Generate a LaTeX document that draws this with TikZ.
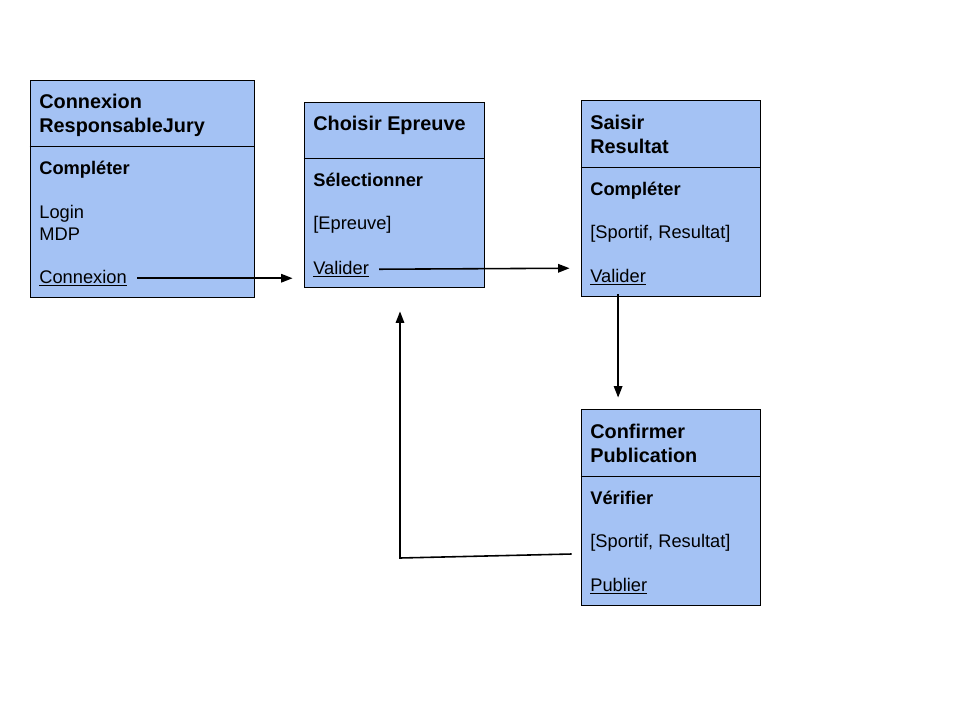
\documentclass[tikz,border=0pt]{standalone}
\usepackage{fontspec}
\setmainfont{Liberation Sans}
\usetikzlibrary{arrows.meta, positioning, calc}
\definecolor{boxblue}{HTML}{A4C2F4}

\begin{document}
\begin{tikzpicture}[x=0.02cm, y=-0.02cm,
    box/.style={rectangle, draw=black, line width=0.5pt, fill=boxblue, inner sep=0pt},
    divider/.style={draw=black, line width=0.5pt},
    head/.style={anchor=base west, inner sep=0pt, font=\fontsize{11.3}{13.7}\selectfont\bfseries},
    body/.style={anchor=base west, inner sep=0pt, font=\fontsize{10.4}{12.5}\selectfont},
    act/.style={body, font=\fontsize{10.4}{12.5}\selectfont\bfseries},
    arrow/.style={-{Triangle[length=2.3mm, width=1.7mm]}, line width=0.9pt}
]
\useasboundingbox (0,0) rectangle (960,720);

% Boxes
\node[box, minimum width=4.48cm, minimum height=4.34cm] (b1) at (142,188.5) {};
\node[box, minimum width=3.6cm, minimum height=3.7cm] (b2) at (394,194.5) {};
\node[box, minimum width=3.58cm, minimum height=3.92cm] (b3) at (670.5,198) {};
\node[box, minimum width=3.58cm, minimum height=3.92cm] (b4) at (670.5,507) {};

% Dividers
\draw[divider] (b1.west |- 0,146) -- (b1.east |- 0,146);
\draw[divider] (b2.west |- 0,158) -- (b2.east |- 0,158);
\draw[divider] (b3.west |- 0,167) -- (b3.east |- 0,167);
\draw[divider] (b4.west |- 0,476) -- (b4.east |- 0,476);

% Connexion ResponsableJury
\node[head] (h1a) at (39,108) {Connexion};
\node[head] (h1b) at (39,132) {ResponsableJury};
\node[act] (a1) at (39,174) {Compléter};
\node[body] (f1a) at (39,218) {Login};
\node[body] (f1b) at (39,240) {MDP};
\node[body] (lnk1) at (39,283) {\underline{Connexion}};

% Choisir Epreuve
\node[head] (h2) at (313,130) {Choisir Epreuve};
\node[act] (a2) at (313,186) {Sélectionner};
\node[body] (f2) at (313,229) {[Epreuve]};
\node[body] (lnk2) at (313,274) {\underline{Valider}};

% Saisir Resultat
\node[head] (h3a) at (590,129) {Saisir};
\node[head] (h3b) at (590,153) {Resultat};
\node[act] (a3) at (590,195) {Compléter};
\node[body] (f3) at (590,238) {[Sportif, Resultat]};
\node[body] (lnk3) at (590,282) {\underline{Valider}};

% Confirmer Publication
\node[head] (h4a) at (590,438) {Confirmer};
\node[head] (h4b) at (590,462) {Publication};
\node[act] (a4) at (590,504) {Vérifier};
\node[body] (f4) at (590,547) {[Sportif, Resultat]};
\node[body] (lnk4) at (590,591) {\underline{Publier}};

% Arrows
\draw[arrow] ($(lnk1.east)+(10,0)$) -- ($(b2.west |- lnk1.east)+(-11,0)$);
\draw[arrow] ($(lnk2.east)+(10,0)$) -- ($(b3.west |- lnk2.east)+(-11,-1)$);
\draw[arrow] ($(lnk3.south)+(0,8)$) -- ($(b4.north -| lnk3.south)+(0,-11)$);
\coordinate (bend) at (400,558);
\draw[arrow] ($(b4.west)+(-9,47)$) -- (bend) -- ($(b2.south -| bend)+(0,24)$);

\end{tikzpicture}
\end{document}
